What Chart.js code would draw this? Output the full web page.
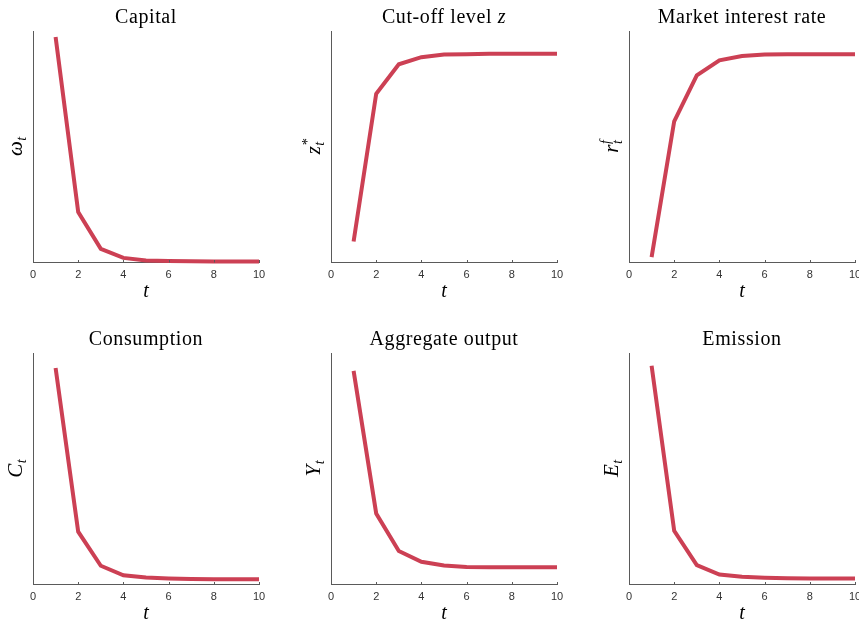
<!DOCTYPE html>
<html>
<head>
<meta charset="utf-8">
<script src="https://cdn.jsdelivr.net/npm/chart.js@4/dist/chart.umd.min.js"></script>
<style>
  html, body { margin: 0; padding: 0; background: #fff; overflow: hidden; width: 859px; height: 622px; }
  canvas { position: absolute; }
</style>
</head>
<body>
<canvas id="c0" width="293" height="310" style="left:0px;top:0px"></canvas>
<canvas id="c1" width="293" height="310" style="left:298px;top:0px"></canvas>
<canvas id="c2" width="293" height="310" style="left:596px;top:0px"></canvas>
<canvas id="c3" width="293" height="310" style="left:0px;top:322px"></canvas>
<canvas id="c4" width="293" height="310" style="left:298px;top:322px"></canvas>
<canvas id="c5" width="293" height="310" style="left:596px;top:322px"></canvas>
<script>
// Time periods and simulated paths (normalised units, no y ticks shown)
const periods = [1, 2, 3, 4, 5, 6, 7, 8, 9, 10];
const xTicks = [0, 2, 4, 6, 8, 10];

const capital     = [0.974, 0.218, 0.059, 0.020, 0.009, 0.006, 0.005, 0.004, 0.004, 0.004];
const cutoff      = [0.091, 0.729, 0.856, 0.887, 0.898, 0.900, 0.902, 0.902, 0.902, 0.902];
const interest    = [0.023, 0.610, 0.808, 0.873, 0.892, 0.898, 0.900, 0.900, 0.900, 0.900];
const consumption = [0.935, 0.228, 0.081, 0.040, 0.030, 0.026, 0.024, 0.023, 0.023, 0.023];
const output      = [0.923, 0.307, 0.145, 0.098, 0.082, 0.076, 0.074, 0.074, 0.074, 0.074];
const emission    = [0.945, 0.232, 0.084, 0.043, 0.033, 0.029, 0.027, 0.026, 0.026, 0.026];

const titles  = ['Capital', 'Cut-off level z', 'Market interest rate', 'Consumption', 'Aggregate output', 'Emission'];
const symbols = [
  { main: 'ω', sub: 't', sup: '' },
  { main: 'z', sub: 't', sup: '*' },
  { main: 'r', sub: 't', sup: 'f' },
  { main: 'C', sub: 't', sup: '' },
  { main: 'Y', sub: 't', sup: '' },
  { main: 'E', sub: 't', sup: '' }
];
const series = [capital, cutoff, interest, consumption, output, emission];

const LINE_COLOR = 'rgb(204, 64, 84)';
const AXIS_COLOR = '#5a5a5a';
const SERIF = '"Liberation Serif", "Times New Roman", serif';

// Titles, axis symbols and inward tick marks
const decor = {
  id: 'decor',
  afterDraw(chart, args, opts) {
    const { ctx, chartArea: a } = chart;
    const xs = chart.scales.x;
    const cx = (a.left + a.right) / 2;
    const cy = (a.top + a.bottom) / 2;
    ctx.save();

    // inward tick marks on the x axis
    ctx.strokeStyle = AXIS_COLOR;
    ctx.lineWidth = 1;
    ctx.beginPath();
    xTicks.forEach(v => {
      if (v === xTicks[0]) return;
      const px = Math.round(xs.getPixelForValue(v)) + 0.5;
      ctx.moveTo(px, a.bottom);
      ctx.lineTo(px, a.bottom - 2.5);
    });
    ctx.stroke();

    ctx.fillStyle = '#000';

    // panel title (the trailing z of "Cut-off level z" is italic)
    ctx.textBaseline = 'alphabetic';
    ctx.font = '20px ' + SERIF;
    ctx.letterSpacing = '0.6px';
    const t = opts.title;
    if (t.endsWith(' z')) {
      const head = t.slice(0, -1);
      const wHead = ctx.measureText(head).width;
      ctx.font = 'italic 20px ' + SERIF;
      const wZ = ctx.measureText('z').width;
      const x0 = cx - (wHead + wZ) / 2;
      ctx.textAlign = 'left';
      ctx.font = '20px ' + SERIF;
      ctx.fillText(head, x0, 22.5);
      ctx.font = 'italic 20px ' + SERIF;
      ctx.fillText('z', x0 + wHead, 22.5);
    } else {
      ctx.textAlign = 'center';
      ctx.fillText(t, cx, 22.5);
    }
    ctx.letterSpacing = '0px';

    // x axis symbol
    ctx.textAlign = 'center';
    ctx.font = 'italic 20px ' + SERIF;
    ctx.fillText('t', cx, 297);

    // y axis symbol with sub/superscript, rotated
    const s = opts.symbol;
    ctx.translate(a.left - 11, cy);
    ctx.rotate(-Math.PI / 2);
    ctx.textAlign = 'left';
    ctx.font = 'italic 21px ' + SERIF;
    const w1 = ctx.measureText(s.main).width;
    ctx.font = 'italic 14px ' + SERIF;
    const w2 = Math.max(ctx.measureText(s.sub).width, s.sup ? ctx.measureText(s.sup).width : 0);
    const x0 = -(w1 + w2) / 2;
    ctx.font = 'italic 21px ' + SERIF;
    ctx.fillText(s.main, x0, 0);
    ctx.font = 'italic 14px ' + SERIF;
    ctx.fillText(s.sub, x0 + w1 + 0.5, 4);
    if (s.sup) ctx.fillText(s.sup, x0 + w1 + 0.5, -8);
    ctx.restore();
  }
};

series.forEach((vals, i) => {
  const ctx = document.getElementById('c' + i).getContext('2d');
  new Chart(ctx, {
    type: 'line',
    data: {
      datasets: [{
        data: periods.map((p, k) => ({ x: p, y: vals[k] })),
        borderColor: LINE_COLOR,
        borderWidth: 4,
        pointRadius: 0,
        tension: 0,
        fill: false,
        clip: false
      }]
    },
    options: {
      responsive: false,
      animation: false,
      events: [],
      layout: { padding: { top: 31, left: 33, right: 34, bottom: 0 } },
      plugins: {
        legend: { display: false },
        tooltip: { enabled: false },
        title: { display: false },
        decor: { title: titles[i], symbol: symbols[i] }
      },
      scales: {
        x: {
          type: 'linear',
          min: 0,
          max: 10,
          afterBuildTicks: sc => { sc.ticks = xTicks.map(v => ({ value: v })); },
          afterFit: sc => { sc.height = 47.5; },
          grid: { display: false, drawTicks: false },
          border: { display: true, color: AXIS_COLOR, width: 1 },
          ticks: {
            padding: 5.5,
            maxRotation: 0,
            color: '#333',
            font: { family: '"Liberation Sans", Arial, sans-serif', size: 11 }
          }
        },
        y: {
          type: 'linear',
          min: 0,
          max: 1,
          afterFit: sc => { sc.width = 0; },
          grid: { display: false, drawTicks: false },
          border: { display: true, color: AXIS_COLOR, width: 1 },
          ticks: { display: false }
        }
      }
    },
    plugins: [decor]
  });
});
</script>
</body>
</html>
